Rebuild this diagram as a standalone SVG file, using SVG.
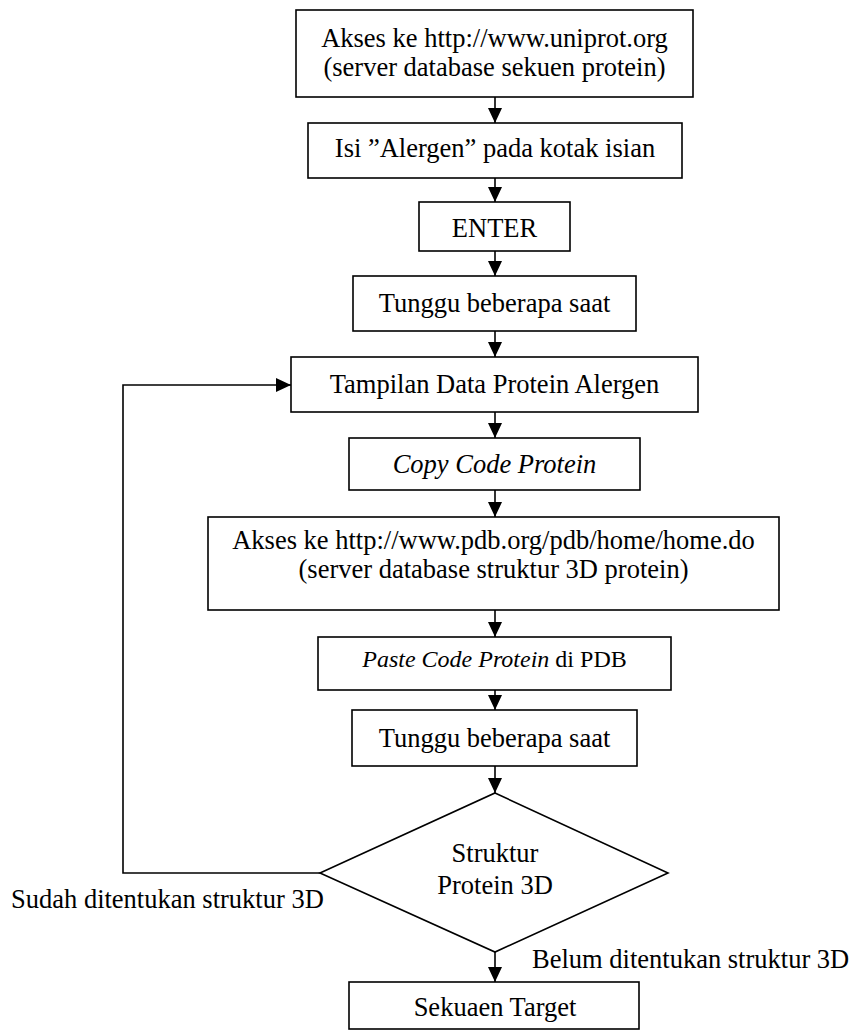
<svg xmlns="http://www.w3.org/2000/svg" width="853" height="1031" viewBox="0 0 853 1031">
<style>
.box{fill:#fff;stroke:#000;stroke-width:1.6}
.t{font-family:"Liberation Serif","Times New Roman",serif;font-size:26.5px;fill:#000;text-anchor:middle}
.l{font-family:"Liberation Serif","Times New Roman",serif;font-size:26.5px;fill:#000}
.c{fill:none;stroke:#000;stroke-width:1.6}
</style>
<defs>
<marker id="ah" markerUnits="userSpaceOnUse" markerWidth="15" markerHeight="14" refX="15" refY="7" orient="auto">
<path d="M0,0 L15,7 L0,14 z" fill="#000"/>
</marker>
</defs>
<rect width="853" height="1031" fill="#fff"/>
<g id="connectors">
<line class="c" x1="495" y1="97" x2="495" y2="123" marker-end="url(#ah)"/>
<line class="c" x1="495" y1="178" x2="495" y2="202" marker-end="url(#ah)"/>
<line class="c" x1="495" y1="251" x2="495" y2="276" marker-end="url(#ah)"/>
<line class="c" x1="495" y1="331" x2="495" y2="357" marker-end="url(#ah)"/>
<line class="c" x1="495" y1="412" x2="495" y2="438" marker-end="url(#ah)"/>
<line class="c" x1="495" y1="490" x2="495" y2="517" marker-end="url(#ah)"/>
<line class="c" x1="495" y1="610" x2="495" y2="637" marker-end="url(#ah)"/>
<line class="c" x1="495" y1="690" x2="495" y2="710" marker-end="url(#ah)"/>
<line class="c" x1="495" y1="766" x2="495" y2="793" marker-end="url(#ah)"/>
<line class="c" x1="495" y1="952" x2="495" y2="982" marker-end="url(#ah)"/>
<polyline class="c" points="320,873 123,873 123,385 291,385" marker-end="url(#ah)"/>
</g>
<g id="n1"><rect class="box" x="296" y="10" width="397" height="87"/>
<text class="t" x="494.5" y="47">Akses ke http://www.uniprot.org</text>
<text class="t" x="494.5" y="76">(server database sekuen protein)</text></g>
<g id="n2"><rect class="box" x="308" y="123" width="374" height="55"/>
<text class="t" x="495" y="157">Isi ”Alergen” pada kotak isian</text></g>
<g id="n3"><rect class="box" x="419" y="202" width="151" height="49"/>
<text class="t" x="494.5" y="237">ENTER</text></g>
<g id="n4"><rect class="box" x="353" y="276" width="283" height="55"/>
<text class="t" x="494.5" y="312">Tunggu beberapa saat</text></g>
<g id="n5"><rect class="box" x="291" y="357" width="407" height="55"/>
<text class="t" x="494.5" y="393">Tampilan Data Protein Alergen</text></g>
<g id="n6"><rect class="box" x="349" y="438" width="291" height="52"/>
<text class="t" x="494.5" y="473" font-style="italic">Copy Code Protein</text></g>
<g id="n7"><rect class="box" x="208" y="517" width="571" height="93"/>
<text class="t" x="493.5" y="549">Akses ke http://www.pdb.org/pdb/home/home.do</text>
<text class="t" x="493.5" y="578">(server database struktur 3D protein)</text></g>
<g id="n8"><rect class="box" x="318" y="637" width="353" height="53"/>
<text class="t" x="494.5" y="667" style="font-size:24px"><tspan font-style="italic">Paste Code Protein</tspan> di PDB</text></g>
<g id="n9"><rect class="box" x="352" y="710" width="285" height="56"/>
<text class="t" x="494.5" y="747">Tunggu beberapa saat</text></g>
<g id="n10"><polygon class="box" points="495,793 668,873 495,952 320,873"/>
<text class="t" x="495" y="862">Struktur</text>
<text class="t" x="495" y="894">Protein 3D</text></g>
<g id="n11"><rect class="box" x="349" y="982" width="290" height="47"/>
<text class="t" x="495" y="1016">Sekuaen Target</text></g>
<g id="labels">
<text class="l" x="11" y="908">Sudah ditentukan struktur 3D</text>
<text class="l" x="532" y="968">Belum ditentukan struktur 3D</text>
</g>
</svg>
